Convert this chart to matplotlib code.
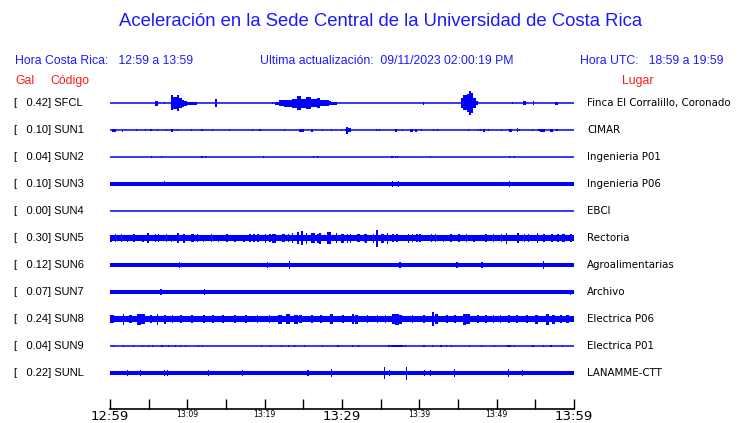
import matplotlib
matplotlib.use("Agg")
import matplotlib.pyplot as plt
import numpy as np

# ---------------- data ----------------
codes = ["SFCL", "SUN1", "SUN2", "SUN3", "SUN4", "SUN5", "SUN6", "SUN7", "SUN8", "SUN9", "SUNL"]
gal = [0.42, 0.10, 0.04, 0.10, 0.00, 0.30, 0.12, 0.07, 0.24, 0.04, 0.22]
places = ["Finca El Corralillo, Coronado", "CIMAR", "Ingenieria P01", "Ingenieria P06", "EBCI",
          "Rectoria", "Agroalimentarias", "Archivo", "Electrica P06", "Electrica P01", "LANAMME-CTT"]

# background (noise) envelope half-amplitude of each trace (display units)
noise = [0, 0, 0, 1.9, 0, 3.0, 1.6, 1.8, 3.2, 0, 1.6]

# bursts: (start minute, end minute, envelope half-amplitude)
bursts = {
    "SFCL": [(5.8, 6.2, 2.5), (7.0, 7.0, 1), (7.9, 8.2, 7.5), (8.2, 8.6, 6), (8.6, 8.9, 8), (8.9, 9.3, 5),
             (9.3, 9.6, 3.5), (9.6, 10.0, 2.5), (10.0, 11.2, 1.5), (13.6, 13.8, 4), (21.0, 21.0, 1),
             (21.4, 21.8, 1.5), (21.8, 22.5, 3), (22.5, 23.5, 3.5), (23.5, 24.2, 4.5), (24.2, 24.7, 7),
             (24.7, 25.3, 4.5), (25.3, 26.0, 6), (26.0, 26.8, 4), (26.8, 27.2, 5), (27.2, 28.3, 3),
             (28.3, 28.6, 2), (28.6, 29.4, 1.5), (40.5, 40.5, 1.5), (45.4, 45.7, 5), (45.7, 46.1, 7.5),
             (46.1, 46.4, 9), (46.4, 46.7, 12), (46.7, 47.0, 10), (47.0, 47.3, 5), (47.3, 47.6, 2),
             (52.1, 52.1, 1), (53.4, 53.8, 2), (54.8, 54.8, 2), (57.6, 57.9, 1.5)],
    "SUN1": [(0.3, 0.8, 1.5), (1.5, 1.7, 1.5), (3.4, 3.4, 0.8), (4.6, 4.6, 1.2), (5.3, 5.3, 1.2), (6.1, 6.1, 0.8),
             (7.2, 7.3, 1.3), (7.9, 8.1, 1.5), (8.7, 8.7, 1), (10.5, 10.5, 1), (11.9, 11.9, 0.8), (13.2, 13.3, 1.3),
             (15.5, 15.5, 1), (18.4, 18.4, 0.8), (19.4, 19.4, 1), (22.6, 22.6, 0.8), (24.4, 25.1, 1.5),
             (26.0, 26.3, 1.5), (27.5, 27.5, 1), (28.7, 28.7, 1), (29.9, 29.9, 1), (30.4, 30.4, 1.2),
             (30.6, 30.7, 3.5), (30.7, 31.2, 1.8), (34.5, 34.5, 0.8), (34.8, 34.8, 1), (36.9, 37.1, 1.5),
             (37.8, 37.8, 1), (38.8, 39.2, 1.5), (39.5, 39.7, 1.5), (40.3, 40.3, 1), (41.8, 41.9, 1.2),
             (42.3, 42.4, 1), (46.4, 46.4, 0.8), (47.6, 47.7, 1), (47.9, 48.0, 1), (48.2, 48.5, 1.5),
             (48.9, 48.9, 1), (50.6, 50.6, 0.8), (51.6, 52.0, 1.5), (52.6, 52.7, 2), (52.9, 53.0, 1.3),
             (54.6, 54.6, 0.8), (55.4, 55.6, 1), (55.6, 56.2, 1.5), (56.9, 57.3, 1.5), (57.8, 57.8, 1)],
    "SUN2": [(5.4, 5.4, 1), (6.7, 6.7, 0.8), (11.8, 12.0, 1), (12.4, 12.4, 0.8), (19.9, 19.9, 1.2),
             (26.3, 26.3, 0.8), (26.8, 26.8, 0.8), (36.4, 36.6, 1.3), (36.9, 37.0, 1.2), (37.1, 37.3, 1.3),
             (41.4, 41.4, 1), (51.7, 51.7, 1.2), (52.3, 52.3, 0.8)],
    "SUN3": [(7.0, 7.0, 2.5), (10.2, 10.2, 2.4), (25.6, 25.6, 2.4), (36.5, 36.5, 3.4), (37.2, 37.4, 2.8),
             (50.8, 50.8, 2.4), (51.7, 51.7, 3.2), (55.9, 55.9, 2.4)],
    "SUN4": [],
    "SUN5": [(0, 0.3, 3.5), (0.6, 0.8, 3.8), (1.5, 1.5, 4), (2.3, 2.3, 3.5), (3.0, 3.2, 3.8), (4.2, 4.4, 3.5),
             (4.8, 5.1, 5), (5.8, 6.0, 3.8), (6.3, 6.3, 4), (7.2, 7.4, 3.8), (8.0, 8.0, 3.5), (8.7, 8.9, 5),
             (9.5, 9.7, 4.5), (10.5, 10.8, 3.8), (11.2, 11.4, 3.8), (12.0, 12.2, 3.5), (13.0, 13.2, 3.8),
             (14.0, 14.0, 3.5), (15.0, 15.3, 3.8), (16.0, 16.3, 3.5), (17.2, 17.5, 3.5), (18.0, 18.2, 4),
             (18.5, 18.7, 3.8), (19.0, 19.3, 4), (20.0, 20.2, 4.5), (20.6, 20.8, 4), (21.0, 21.5, 4.5),
             (22.3, 22.6, 4), (23.0, 23.2, 4.2), (23.5, 23.7, 5), (24.2, 24.5, 6), (24.7, 25.0, 7),
             (25.3, 25.5, 5.5), (26.0, 26.5, 5), (26.8, 27.0, 4.5), (27.0, 27.3, 5.5), (28.0, 28.6, 6),
             (29.2, 29.4, 5), (29.9, 30.2, 4.5), (30.6, 30.8, 4.5), (31.0, 31.2, 4.5), (32.0, 32.3, 4),
             (32.8, 33.0, 4), (33.0, 33.2, 4.5), (34.0, 34.2, 4.5), (34.4, 34.6, 8.5), (35.0, 35.4, 4.5),
             (35.8, 36.0, 5.5), (36.5, 36.7, 4), (37.0, 37.3, 4), (38.5, 38.7, 4.5), (39.0, 39.2, 4),
             (39.6, 39.8, 3.8), (40.0, 40.2, 4), (41.5, 41.7, 4), (42.0, 42.2, 3.8), (43.0, 43.2, 3.5),
             (44.0, 44.2, 3.8), (45.0, 45.3, 4), (46.0, 46.2, 3.8), (47.0, 47.2, 3.5), (48.5, 48.8, 4),
             (49.5, 49.7, 3.8), (50.5, 50.7, 4), (51.2, 51.4, 5.5), (52.6, 52.9, 5), (53.5, 53.7, 4),
             (54.0, 54.2, 4), (55.2, 55.4, 5), (56.0, 56.2, 4), (57.0, 57.3, 4), (57.8, 58.0, 3.8),
             (58.5, 58.8, 4), (59.5, 59.7, 4)],
    "SUN6": [(1.0, 1.0, 2.2), (2.5, 2.5, 2), (5.5, 5.5, 2.2), (7.8, 7.8, 2), (9.0, 9.0, 2.7), (11.0, 11.0, 2),
             (12.2, 12.2, 2.2), (13.2, 13.2, 2), (16.0, 16.0, 2.2), (17.5, 17.5, 2), (19.5, 19.5, 2),
             (20.4, 20.4, 2.7), (21.5, 21.5, 2), (23.2, 23.2, 3.7), (25.0, 25.0, 2), (27.0, 27.0, 2),
             (29.5, 29.5, 2.2), (31.0, 31.0, 2), (33.0, 33.0, 2), (35.0, 35.0, 2), (37.5, 37.5, 2.7),
             (39.5, 39.5, 2), (42.0, 42.0, 2), (44.8, 45.0, 2.7), (46.5, 46.5, 2), (48.1, 48.1, 3.2),
             (50.0, 50.0, 2), (52.0, 52.0, 2), (53.0, 53.0, 2.2), (54.0, 54.0, 2), (56.1, 56.1, 3.7),
             (58.0, 58.0, 2)],
    "SUN7": [(6.6, 6.6, 2.7), (12.2, 12.2, 2.7), (45.6, 45.6, 2.4), (47.0, 47.0, 2.2), (52.6, 52.6, 2.4),
             (59.6, 59.6, 2.5)],
    "SUN8": [(0, 0.5, 4), (1.7, 1.7, 5.5), (2.5, 2.8, 4), (3.5, 4.0, 5.5), (4.0, 4.5, 5), (5.2, 5.4, 4),
             (6.2, 6.2, 5.5), (7.0, 7.2, 4.5), (8.0, 8.2, 4), (9.0, 9.3, 4), (10.5, 10.7, 4), (12.0, 12.3, 4),
             (13.2, 13.4, 3.8), (14.5, 14.8, 4), (16.0, 16.3, 4), (17.5, 17.7, 3.8), (19.0, 19.2, 4),
             (20.5, 20.7, 3.8), (21.7, 22.3, 4.5), (22.8, 23.3, 5), (23.8, 24.3, 4.5), (24.5, 24.8, 4),
             (26.0, 26.3, 4), (27.2, 27.4, 3.8), (28.5, 28.9, 5), (30.0, 30.2, 4), (31.3, 31.6, 5),
             (31.7, 32.1, 4.5), (33.2, 33.4, 3.8), (34.5, 34.7, 4), (35.5, 35.7, 3.8), (36.5, 36.8, 5),
             (36.9, 37.4, 5.5), (37.4, 37.8, 4.5), (39.0, 39.2, 3.8), (40.5, 40.7, 4), (41.6, 41.9, 7),
             (42.0, 42.4, 5), (43.5, 43.7, 4), (44.5, 44.7, 3.8), (45.6, 46.0, 5.5), (46.0, 46.5, 5),
             (47.5, 47.7, 3.8), (48.5, 48.7, 4), (49.5, 49.7, 3.8), (50.4, 50.6, 4), (51.5, 51.7, 3.8),
             (52.5, 52.8, 4), (53.8, 54.0, 3.8), (55.0, 55.3, 4.5), (56.4, 56.8, 5.5), (57.2, 57.5, 4.5),
             (58.2, 58.4, 3.8), (59.0, 59.3, 4)],
    "SUN9": [(0.5, 0.5, 1), (1.7, 1.7, 0.8), (3.0, 3.0, 0.8), (4.2, 4.2, 1), (5.0, 5.0, 1), (5.5, 5.5, 1),
             (6.6, 6.8, 1.2), (7.6, 7.6, 1), (8.5, 8.5, 1), (9.1, 9.1, 1), (9.8, 9.8, 1), (11.4, 11.4, 0.8),
             (12.0, 12.0, 1), (19.6, 19.6, 1), (20.7, 20.7, 1), (22.2, 22.2, 0.8), (23.0, 23.2, 1.2),
             (23.8, 23.8, 1), (25.2, 25.2, 1), (27.5, 27.5, 1), (29.3, 29.6, 1.2), (31.3, 31.3, 1),
             (32.1, 32.1, 1), (35.9, 36.2, 1.2), (36.4, 37.9, 1.3), (38.2, 38.3, 1), (40.6, 40.6, 1),
             (41.7, 41.7, 1), (42.8, 42.8, 1), (43.5, 43.5, 1), (44.2, 44.2, 1), (46.5, 46.5, 1),
             (48.0, 48.0, 0.8), (49.7, 49.7, 1), (51.4, 51.8, 1.2), (52.3, 52.3, 1), (54.7, 54.7, 1),
             (56.0, 56.0, 1), (56.9, 57.2, 1.2), (58.5, 58.5, 1)],
    "SUNL": [(1.0, 1.0, 2), (2.3, 2.3, 2.7), (3.2, 3.2, 2), (4.0, 4.0, 2.7), (5.8, 5.8, 2), (7.1, 7.1, 3.2),
             (7.4, 7.5, 2.7), (9.5, 9.5, 2), (11.0, 11.0, 2), (12.2, 12.2, 2.4), (12.7, 12.7, 3.2),
             (14.5, 14.5, 2), (17.1, 17.1, 3.2), (19.4, 19.4, 2.2), (21.0, 21.0, 2), (23.0, 23.0, 2),
             (24.2, 24.2, 2.2), (25.6, 25.6, 2.7), (26.0, 26.0, 2.2), (28.7, 28.7, 4.2), (30.5, 30.5, 2),
             (32.5, 32.5, 2.2), (35.2, 35.2, 2.4), (35.5, 35.5, 6), (36.2, 36.2, 3.2), (38.3, 38.3, 6.5),
             (39.5, 39.5, 2), (40.7, 40.7, 2.7), (41.4, 41.4, 2.7), (43.0, 43.0, 2), (44.5, 44.5, 4.2),
             (46.5, 46.5, 2), (48.4, 48.4, 2.2), (50.5, 50.5, 2), (51.5, 51.5, 4.2), (53.3, 53.3, 2.7),
             (55.0, 55.0, 2), (57.0, 57.0, 2), (58.5, 58.5, 2)],
}

tick_minutes = list(range(0, 61, 5))
tick_labels = {0: "12:59", 10: "13:09", 20: "13:19", 30: "13:29", 40: "13:39", 50: "13:49", 60: "13:59"}

title = "Aceleración en la Sede Central de la Universidad de Costa Rica"
hdr_local = "Hora Costa Rica:   12:59 a 13:59"
hdr_update = "Ultima actualización:  09/11/2023 02:00:19 PM"
hdr_utc = "Hora UTC:   18:59 a 19:59"

# ---------------- figure ----------------
W, H = 740, 423
fig = plt.figure(figsize=(W / 100, H / 100), dpi=100)
fig.patch.set_facecolor("white")

def fx(px):
    return px / W

def fy(py):
    return 1 - py / H

BLUE = "#0000ff"
TBLUE = "#1a1aff"
RED = "#ff1a1a"

x0_px, x1_px, axis_px = 110, 574, 409
ax = fig.add_axes([fx(x0_px), fy(axis_px), fx(x1_px - x0_px), axis_px / H])
ax.set_xlim(0, 60)
ax.set_ylim(axis_px, 0)
for s in ("top", "left", "right"):
    ax.spines[s].set_visible(False)
ax.spines["bottom"].set_linewidth(1.2)
ax.set_yticks([])
ax.set_xticks(tick_minutes)
ax.set_xticklabels([tick_labels.get(m, "") for m in tick_minutes], family="DejaVu Sans")
ax.tick_params(axis="x", direction="in", length=7, width=1.0, pad=0.5)
for m, lab in zip(tick_minutes, ax.get_xticklabels()):
    lab.set_fontsize(9.5 if m in (0, 30, 60) else 5.6)

row0, dy = 103, 27
minw = 0.14
for i, code in enumerate(codes):
    yc = row0 + i * dy
    ax.plot([0, 60], [yc, yc], color=BLUE, lw=1.1, solid_capstyle="butt")
    if noise[i] > 0:
        ax.fill_between([0, 60], yc - noise[i], yc + noise[i], color=BLUE, lw=0)
    ev = bursts[code]
    if ev:
        t0 = np.array([e[0] for e in ev])
        t1 = np.array([e[1] for e in ev])
        a = np.array([e[2] for e in ev])
        w = np.maximum(t1 - t0, minw)
        ax.bar((t0 + t1) / 2, 2 * a, width=w, bottom=yc - a, color=BLUE, lw=0)
    fig.text(fx(14), fy(yc), f"[   {gal[i]:.2f}] {code}", fontsize=8, family="Liberation Sans",
             va="center", ha="left", color="black")
    fig.text(fx(587), fy(yc), places[i], fontsize=7.4, family=["DejaVu Sans Condensed", "DejaVu Sans"],
             va="center", ha="left", color="black")

fig.text(fx(381), fy(22), title, fontsize=13.3, family="Liberation Sans", color=TBLUE, ha="center", va="center")
fig.text(fx(15), fy(61), hdr_local, fontsize=8.8, family="Liberation Sans", color=TBLUE, ha="left", va="center")
fig.text(fx(260), fy(61), hdr_update, fontsize=8.8, family="Liberation Sans", color=TBLUE, ha="left", va="center")
fig.text(fx(580), fy(61), hdr_utc, fontsize=8.8, family="Liberation Sans", color=TBLUE, ha="left", va="center")
fig.text(fx(15), fy(81), "Gal", fontsize=8.8, family="Liberation Sans", color=RED, ha="left", va="center")
fig.text(fx(50), fy(81), "Código", fontsize=8.8, family="Liberation Sans", color=RED, ha="left", va="center")
fig.text(fx(622), fy(81), "Lugar", fontsize=8.8, family="Liberation Sans", color=RED, ha="left", va="center")

fig.savefig("out.png", dpi=100, facecolor="white")
